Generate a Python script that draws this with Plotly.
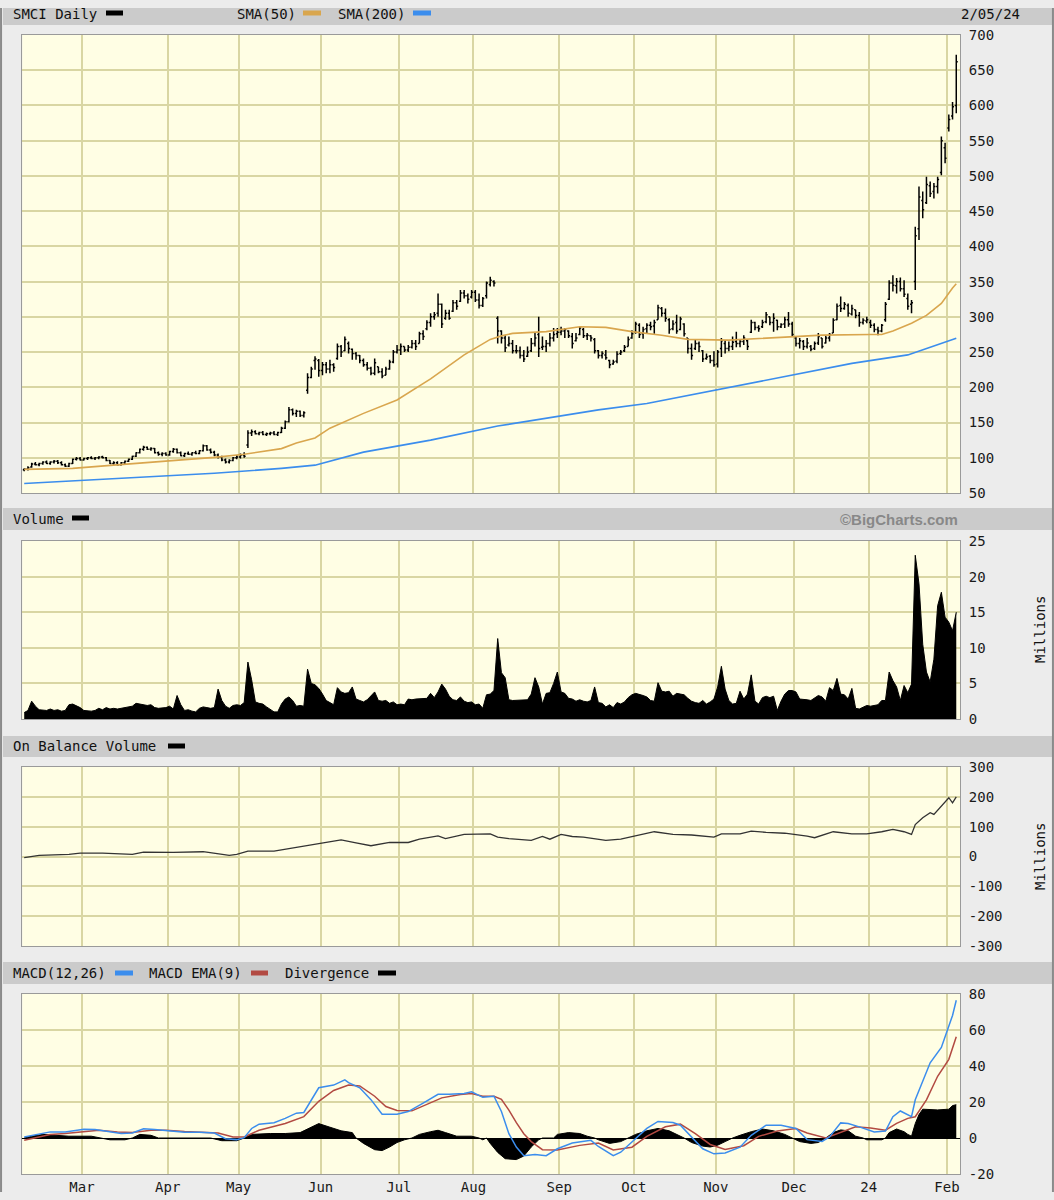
import pandas as pd
import plotly.graph_objects as go

W, H = 1054, 1200
# the page is photographed with the figure drawn 8px lower and 1184px tall,
# so vertical positions are mapped through that frame
def px(x): return x / W
def py(y): return 1 - (y - 8) / 1184

# ---------------- trading calendar ----------------
HOLIDAYS = ["2023-02-20", "2023-04-07", "2023-05-29", "2023-06-19", "2023-07-04",
            "2023-09-04", "2023-11-23", "2023-12-25", "2024-01-01", "2024-01-15"]
days = pd.bdate_range("2023-02-06", "2024-02-05")
days = days[~days.isin(pd.to_datetime(HOLIDAYS))]
N = len(days)
IDX = list(range(N))
MONTH_LABELS = ["Mar", "Apr", "May", "Jun", "Jul", "Aug", "Sep", "Oct", "Nov", "Dec", "24", "Feb"]

# ---------------- price data (OHLC) ----------------
OPEN = [83,84,87,91,90,92,94,92,94,95, 93,90,88,92,98,99,97,99,100,99,
        100,101,100,96,92,93,90,93,95,98, 102,107,112,115,112,113,107,105,106,104,
        109,112,107,103,106,105,107,106,110,117, 111,108,104,101,97,94,96,100,101,104,
        118,135,137,134,136,133,134,135,133,136, 142,151,168,163,166,160,196,214,238,238,
        224,232,226,232,241,258,252,262,254,248, 245,238,232,227,220,229,222,217,226,236,
        250,253,258,253,257,262,262,276,283,292, 300,305,318,298,305,308,320,322,334,330,
        328,335,324,316,330,346,350,298,280,270, 260,262,252,252,245,244,252,262,275,257,
        258,262,270,276,278,280,280,272,266,275, 282,273,273,268,252,245,246,238,233,237,
        248,252,258,270,278,288,276,283,288,287, 296,312,305,296,283,292,282,290,270,255,
        255,262,252,241,244,238,233,255,262,255, 258,265,262,265,266,278,292,285,286,293,
        300,292,295,286,290,296,290,270,262,265, 258,258,255,263,270,263,270,277,296,316,
        312,316,304,310,302,292,294,292,288,282, 280,296,325,348,344,350,340,326,318,350,
        425,465,462,486,478,485,505,540,568,585, 600]
HIGH = [85,88,93,94,93,95,96,95,97,97, 95,92,93,99,101,101,100,101,102,101,
        102,103,101,97,95,95,94,96,99,103, 108,113,117,116,115,114,109,108,108,110,
        114,113,109,107,109,108,110,111,119,118, 113,110,106,103,99,98,101,104,106,108,
        139,140,139,137,138,136,137,138,137,144, 153,172,170,168,167,166,220,229,244,240,
        236,236,239,234,262,260,272,265,255,250, 246,241,236,229,241,229,227,229,239,253,
        260,262,258,260,267,267,279,281,295,305, 307,333,319,310,310,324,324,338,338,333,
        338,338,333,328,350,357,352,301,281,274, 272,267,260,258,253,258,270,277,300,272,
        267,277,284,284,286,284,281,277,277,286, 284,277,274,270,253,251,253,239,239,251,
        253,260,272,281,293,291,286,291,293,296, 317,314,312,298,295,303,300,291,270,262,
        267,265,253,248,246,251,253,270,267,265, 272,279,268,274,268,296,293,288,296,307,
        300,305,296,291,300,307,293,272,270,267, 270,260,265,277,270,274,277,298,319,329,
        321,319,317,310,307,298,300,296,291,286, 290,321,352,359,355,356,352,333,324,428,
        485,478,499,492,490,499,556,547,587,605, 672]
LOW = [81,82,86,89,88,90,91,90,92,91, 89,87,87,91,96,96,96,97,98,97,
       98,99,95,91,90,89,89,91,94,97, 101,106,110,111,110,106,103,102,103,103,
       107,106,102,101,104,103,105,105,109,110, 106,102,99,95,92,92,95,98,99,100,
       114,131,133,132,132,131,132,132,131,135, 141,150,160,158,158,157,191,213,225,215,
       217,220,220,222,239,243,251,248,239,239, 234,229,224,217,217,220,213,217,225,234,
       248,246,250,250,255,253,262,267,281,286, 296,300,284,296,296,307,310,321,326,319,
       326,321,312,314,326,343,343,262,262,250, 258,248,248,241,236,243,250,258,243,253,
       250,258,265,270,274,270,270,255,265,274, 270,267,265,248,241,241,239,227,232,234,
       246,250,258,269,276,270,269,276,281,276, 296,300,293,276,281,276,281,272,248,239,
       253,250,236,239,234,229,228,243,248,251, 253,257,257,260,253,277,281,279,284,291,
       288,279,281,284,284,286,272,258,255,253, 255,251,253,260,255,262,265,277,295,307,
       310,300,302,298,286,289,291,284,278,274, 278,293,324,336,333,336,328,310,305,338,
       409,440,460,470,468,475,501,518,563,580, 589]
CLOSE = [84,86,91,90,92,94,92,94,95,93, 90,88,92,98,99,97,99,100,99,100,
         101,100,96,92,93,90,93,95,98,102, 107,112,115,112,113,107,105,106,104,109,
         112,107,103,106,105,107,106,110,117,111, 108,104,101,97,94,96,100,101,104,102,
         135,137,134,136,133,134,135,133,136,142, 151,168,163,166,160,164,214,226,240,224,
         232,226,232,228,258,250,268,255,248,245, 238,232,227,220,235,222,216,226,236,250,
         253,258,253,257,262,258,276,272,292,300, 303,318,290,305,298,320,315,334,330,325,
         335,324,316,326,348,352,348,280,270,256, 262,252,252,245,240,250,262,270,255,258,
         262,270,275,278,280,282,273,262,270,284, 273,274,270,252,245,248,242,232,236,247,
         250,257,268,276,290,275,282,288,286,292, 313,305,298,282,290,280,297,276,255,245,
         262,258,240,243,238,232,250,266,255,258, 264,262,265,270,258,292,285,283,292,303,
         292,298,286,289,296,290,275,262,266,258, 263,254,262,272,258,270,275,295,315,312,
         318,305,312,302,292,295,296,288,282,280, 288,318,348,345,350,340,332,315,320,415,
         470,452,488,475,485,495,550,525,580,598, 662]

# moving averages (at sample days)
SMA50_DAY = [0, 13, 24, 38, 51, 59, 64, 69, 73, 78, 82, 91, 100, 109, 118, 125, 128, 131, 140,
             149, 156, 163, 171, 178, 189, 206, 214, 227, 230, 233, 238, 242, 246, 249, 250]
SMA50_VAL = [83.5, 85, 89.5, 95.5, 100.5, 105, 108.5, 113, 121, 128, 142, 163, 182, 212, 246,
             268, 273, 276.5, 279, 286, 285, 279, 274, 268, 267, 272, 274, 275, 275, 280, 291,
             302, 319, 341, 347]
SMA200_DAY = [0, 13, 33, 51, 69, 78, 91, 109, 127, 154, 167, 189, 204, 222, 237, 242, 250]
SMA200_VAL = [63.5, 67, 73, 78, 85, 89.5, 108, 125, 145, 168, 177, 200, 215, 234, 246, 255, 269.5]

# ---------------- volume (millions) ----------------
VOLUME = [0.9,1.2,2.5,1.8,1.3,1.3,1.2,1.4,1.2,1.3, 1.1,1.2,2.0,2.1,1.9,1.6,1.2,1.1,1.1,1.2,
          1.5,1.3,1.6,1.4,1.5,1.4,1.5,1.6,1.7,1.8, 2.2,2.1,1.9,1.9,2.0,1.6,1.5,1.5,1.6,1.8,
          1.4,3.3,2.0,1.2,1.3,1.1,1.0,1.5,1.7,1.6, 1.5,1.6,4.2,2.6,1.8,1.5,1.9,2.0,1.9,2.3,
          8.0,5.5,2.4,2.2,2.1,1.7,1.3,1.0,1.0,2.1, 2.8,3.1,2.6,1.8,1.9,1.8,7.0,5.0,4.8,4.3,
          3.5,2.6,2.3,2.0,4.4,3.8,3.6,3.7,4.5,2.8, 2.6,2.4,2.7,3.2,3.8,2.6,2.5,2.6,2.2,2.4,
          2.0,2.1,2.0,2.8,2.7,2.8,2.8,2.8,2.9,3.6, 3.0,3.8,4.9,4.2,3.2,2.7,2.6,3.1,2.5,2.3,
          2.4,2.0,2.1,1.5,3.4,3.5,4.0,11.3,6.5,5.8, 2.7,2.6,2.6,2.7,2.7,2.7,3.5,5.8,4.5,2.1,
          3.6,3.7,5.0,6.6,3.8,3.6,2.9,2.8,2.5,2.7, 2.5,2.4,2.6,4.5,2.3,2.2,1.7,2.0,1.6,2.3,
          2.1,2.4,3.0,3.4,3.6,3.5,3.3,3.1,2.6,2.5, 5.1,3.9,3.8,3.9,3.2,3.6,3.5,3.4,2.9,2.5,
          2.3,2.2,2.6,2.1,2.4,2.8,4.5,7.4,4.2,2.6, 2.1,2.2,3.9,2.8,3.5,6.2,2.5,2.1,3.0,3.2,
          3.0,3.2,1.2,2.5,3.5,4.0,4.0,3.8,2.8,2.8, 2.7,2.6,2.9,3.3,3.1,2.5,4.4,4.0,5.7,3.5,
          3.4,2.8,4.3,1.5,1.4,1.6,1.9,1.8,1.9,2.0, 2.6,2.6,6.6,5.4,4.5,2.6,4.7,3.7,4.9,23.0,
          19.0,10.5,6.6,5.2,8.4,15.9,17.8,14.3,13.6,12.4, 15.0]

# ---------------- on balance volume (millions) ----------------
OBV_DAY = [0, 4, 12, 15, 21, 29, 32, 40, 48, 52, 55, 57, 60, 67, 71, 76, 81, 85, 89, 93, 98,
           103, 106, 111, 113, 118, 125, 127, 130, 136, 139, 141, 144, 147, 150, 156, 160, 164,
           169, 174, 179, 185, 187, 192, 195, 199, 204, 210, 212, 217, 222, 226, 230, 233, 236,
           238, 239, 241, 243, 244, 246, 248, 249, 250]
OBV_VAL = [-4, 4, 7, 11, 11, 7, 15, 14, 16, 10, 4, 7, 18, 18, 27, 38, 49, 56, 46, 36, 47,
           47, 58, 69, 60, 74, 76, 65, 60, 54, 67, 58, 74, 67, 65, 54, 58, 68,
           83, 74, 72, 65, 76, 76, 85, 81, 78, 68, 63, 83, 76, 76, 83, 91, 83,
           74, 107, 130, 147, 141, 169, 197, 180, 200]

# ---------------- MACD ----------------
MACD_DAY = [0, 2, 7, 11, 16, 19, 22, 26, 29, 32, 35, 38, 43, 47, 51, 54, 57, 59, 61, 63, 67, 70,
            73, 75, 77, 79, 83, 86, 87, 90, 93, 96, 100, 103, 107, 111, 114, 118, 120, 123, 126,
            128, 130, 132, 134, 137, 140, 143, 147, 149, 152, 154, 158, 160, 164, 167, 170, 174,
            176, 179, 182, 185, 188, 192, 195, 199, 203, 207, 210, 214, 216, 219, 221, 224, 228,
            231, 233, 235, 238, 239, 241, 243, 246, 247, 248, 249, 250]
MACD_VAL = [0.6, 1.5, 3.4, 3.4, 4.9, 4.7, 3.8, 2.5, 2.8, 5.1, 4.7, 4.0, 3.2, 3.2, 2.8, -0.4, -0.9,
            0.2, 5.3, 7.7, 8.5, 10.9, 13.8, 14.2, 21.3, 27.9, 29.4, 32.3, 30.8, 27.9, 21.3, 13.2,
            13.2, 14.7, 19.4, 24.3, 24.3, 24.7, 25.7, 22.6, 23.2, 14.7, 2.4, -5, -9.8, -9.2, -9.8,
            -6, -2.8, -2.3, -1.3, -4.7, -9.8, -7.9, -0.4, 5.3, 9.2, 8.6, 7.1, 0.6, -6, -8.8, -8.3,
            -5.1, 1.5, 7.1, 7.1, 5.3, -0.9, -1.9, 0.6, 8.4, 8.1, 6.2, 3.4, 3.9, 11.8, 15, 11.8,
            21.2, 31.5, 41.8, 50.3, 55.9, 62.5, 68.1, 76.5]
SIGNAL_DAY = [0, 7, 11, 16, 20, 25, 29, 34, 38, 43, 47, 52, 56, 59, 63, 70, 75, 79, 83, 87, 90,
              94, 97, 100, 104, 108, 112, 117, 120, 123, 126, 128, 130, 132, 134, 136, 139, 143,
              149, 154, 158, 163, 167, 172, 176, 180, 184, 188, 193, 197, 202, 207, 210, 215, 220,
              223, 227, 231, 234, 237, 239, 242, 245, 248, 250]
SIGNAL_VAL = [-1.3, 1.9, 2.5, 3.4, 4.3, 3.4, 3.0, 4.3, 4.3, 3.6, 3.4, 2.8, 0.6, 0.6, 4.3, 8.1,
              11.9, 20.4, 26.4, 29.4, 28.9, 23.2, 17.5, 15.3, 15.1, 18.5, 22.3, 24.2, 24.7, 23.2,
              23.2, 21.5, 15.5, 8.5, 2.4, -2, -6.5, -6.6, -4.1, -2.8, -6.6, -5.1, 0.9, 6.2, 7.7,
              2.4, -3.6, -6.4, -4.3, 0.9, 3.9, 5.3, 2.8, 0, 3.9, 6.2, 5.6, 4.3, 8.1, 10.9, 11.8,
              21.2, 34.3, 43.7, 56.3]
DIV_DAY = [0, 2, 5, 9, 12, 18, 21, 23, 27, 29, 31, 34, 36, 45, 50, 53, 57, 59, 61, 66, 70, 74,
           76, 79, 82, 85, 88, 89, 91, 94, 96, 98, 100, 102, 104, 106, 109, 111, 113, 116, 120,
           122, 123, 124, 125, 127, 129, 132, 134, 136, 138, 139, 142, 143, 146, 149, 151, 153,
           154, 157, 160, 162, 164, 167, 170, 173, 176, 177, 179, 182, 184, 186, 188, 190, 192,
           195, 198, 201, 204, 206, 208, 211, 213, 215, 217, 219, 221, 223, 225, 226, 230, 231,
           232, 234, 236, 237, 238, 239, 240, 241, 245, 248, 249, 250]
DIV_VAL = [0, 1, 2, 1.5, 1, 1, 0, -1, -1, 0, 2, 1.5, 0, 0, 0, -1.5, -1.5, 0, 2, 2.5, 2.5, 3,
           5, 8, 6, 4, 3, 0, -3, -6.5, -7, -5, -2.5, -1, 0, 2, 3.5, 4.3, 3, 1, 1,
           0, -1, 0, -3, -8, -11.5, -12, -10, -5, -1, 0, 0, 2, 3, 2.5, 1, 0,
           -1, -3, -2, 0, 2, 4, 5.3, 4, 1, 0, -2.5, -4.5, -5, -4, -2, 0, 1.5,
           3.5, 5, 4, 2, 0, -2, -3, -2.5, 0, 3, 4.5, 4, 1, 0, -1, -1, 0,
           3, 5, 3.5, 2, 1, 8, 13, 16, 15.6, 16, 18, 18.5]

PRICE_TICKS = list(range(50, 701, 50))
VOL_TICKS = [0, 5, 10, 15, 20, 25]
OBV_TICKS = [-300, -200, -100, 0, 100, 200, 300]
MACD_TICKS = [-20, 0, 20, 40, 60, 80]

# ---------------- styling ----------------
FONT = "DejaVu Sans Mono"
GRID = "#d9d6a3"
PLOT_BG = "#fffee4"
PAPER_BG = "#ececec"
HEADER_BG = "#cbcbcb"
BORDER = "#9a9a9a"
C_SMA50 = "#d9a64e"
C_BLUE = "#3b8ded"
C_RED = "#b24a42"

bounds = [i - 0.5 for i in range(1, N) if days[i].month != days[i - 1].month]

fig = go.Figure()
fig.add_trace(go.Ohlc(x=IDX, open=OPEN, high=HIGH, low=LOW, close=CLOSE,
                      increasing=dict(line=dict(color="black", width=1.5)),
                      decreasing=dict(line=dict(color="black", width=1.5)),
                      tickwidth=0.4, xaxis="x", yaxis="y", showlegend=False, hoverinfo="skip"))
fig.add_trace(go.Scatter(x=SMA50_DAY, y=SMA50_VAL, mode="lines", line=dict(color=C_SMA50, width=1.6),
                         xaxis="x", yaxis="y", showlegend=False))
fig.add_trace(go.Scatter(x=SMA200_DAY, y=SMA200_VAL, mode="lines", line=dict(color=C_BLUE, width=1.6),
                         xaxis="x", yaxis="y", showlegend=False))
fig.add_trace(go.Scatter(x=IDX, y=VOLUME, mode="lines", fill="tozeroy", fillcolor="black",
                         line=dict(color="black", width=1), xaxis="x2", yaxis="y2", showlegend=False))
fig.add_trace(go.Scatter(x=OBV_DAY, y=OBV_VAL, mode="lines", line=dict(color="#333333", width=1.3),
                         xaxis="x3", yaxis="y3", showlegend=False))
fig.add_trace(go.Scatter(x=DIV_DAY, y=DIV_VAL, mode="lines", fill="tozeroy", fillcolor="black",
                         line=dict(color="black", width=1), xaxis="x4", yaxis="y4", showlegend=False))
fig.add_trace(go.Scatter(x=SIGNAL_DAY, y=SIGNAL_VAL, mode="lines", line=dict(color=C_RED, width=1.5),
                         xaxis="x4", yaxis="y4", showlegend=False))
fig.add_trace(go.Scatter(x=MACD_DAY, y=MACD_VAL, mode="lines", line=dict(color=C_BLUE, width=1.5),
                         xaxis="x4", yaxis="y4", showlegend=False))

tickfont = dict(family=FONT, size=14, color="#1a1a1a")

def xax(anchor, show):
    d = dict(domain=[px(22.35), px(960)], range=[-0.5, N], tickmode="array", tickvals=bounds,
             showticklabels=show, showgrid=True, gridcolor=GRID, gridwidth=1.5, zeroline=False,
             showline=True, mirror=True, linecolor=BORDER, linewidth=1, ticks="",
             tickfont=tickfont, anchor=anchor, fixedrange=True)
    if show:
        d["ticktext"] = MONTH_LABELS
    if anchor != "y":
        d["matches"] = "x"
    return d

def yax(top, bottom, rng, ticks, anchor, zero=False):
    return dict(domain=[py(bottom), py(top)], range=rng, side="right", tickmode="array",
                tickvals=ticks, ticktext=[str(t) for t in ticks], showgrid=True, gridcolor=GRID,
                gridwidth=1.5, zeroline=zero, zerolinecolor="black", zerolinewidth=1,
                showline=True, mirror=True, linecolor=BORDER, linewidth=1, ticks="",
                tickfont=tickfont, anchor=anchor, ticklabelstandoff=5, fixedrange=True)

fig.update_layout(
    width=W, height=H, autosize=False, margin=dict(l=0, r=0, t=0, b=0, pad=0),
    paper_bgcolor=PAPER_BG, plot_bgcolor=PLOT_BG, showlegend=False,
    xaxis=dict(xax("y", False), rangeslider=dict(visible=False)),
    xaxis2=xax("y2", False), xaxis3=xax("y3", False), xaxis4=xax("y4", True),
    yaxis=yax(35, 493, [50, 700], PRICE_TICKS, "x"),
    yaxis2=yax(541, 719, [0, 25], VOL_TICKS, "x2"),
    yaxis3=yax(767, 946, [-300, 300], OBV_TICKS, "x3"),
    yaxis4=yax(994, 1174, [-20, 80], MACD_TICKS, "x4", zero=True),
)

shapes = []
annotations = []

def header(y0, y1):
    shapes.append(dict(type="rect", xref="paper", yref="paper", x0=px(3), x1=px(1052),
                       y0=py(y1), y1=min(1.0, py(y0)), fillcolor=HEADER_BG, line=dict(width=0),
                       layer="below"))

def text(x, y, s, anchor="left", color="#111111", size=14, family=FONT, angle=0):
    annotations.append(dict(xref="paper", yref="paper", x=px(x), y=py(y), text=s, showarrow=False,
                            xanchor=anchor, yanchor="middle", textangle=angle,
                            font=dict(family=family, size=size, color=color)))

def swatch(x0, x1, yc, color):
    shapes.append(dict(type="rect", xref="paper", yref="paper", x0=px(x0), x1=px(x1),
                       y0=py(yc + 2.5), y1=py(yc - 2.5), fillcolor=color, line=dict(width=0)))

header(3, 25)
text(11, 14, "SMCI Daily"); swatch(106, 123, 13, "black")
text(235, 14, "SMA(50)"); swatch(303, 321, 13, C_SMA50)
text(336, 14, "SMA(200)"); swatch(413, 431, 13, C_BLUE)
text(1022, 14, "2/05/24", anchor="right")

header(508, 530)
text(11, 519, "Volume"); swatch(72, 89, 518, "black")
text(960, 519, "©BigCharts.com", anchor="right", color="#888888", size=15, family="Liberation Sans")
annotations[-1]["font"]["weight"] = "bold"
text(1040, 630, "Millions", anchor="center", angle=-90)

header(736, 757)
text(11, 746, "On Balance Volume"); swatch(168, 185, 746, "black")
text(1040, 857, "Millions", anchor="center", angle=-90)

header(962, 984)
text(11, 973, "MACD(12,26)"); swatch(115, 133, 973, C_BLUE)
text(147, 973, "MACD EMA(9)"); swatch(251, 268, 973, C_RED)
text(283, 973, "Divergence"); swatch(378, 396, 973, "black")

# left / right frame lines
shapes.append(dict(type="line", xref="paper", yref="paper", x0=0.001, x1=0.001, y0=0, y1=1,
                   line=dict(color="#8a8a8a", width=2)))
shapes.append(dict(type="line", xref="paper", yref="paper", x0=0.999, x1=0.999, y0=0, y1=1,
                   line=dict(color="#8a8a8a", width=2)))

fig.update_layout(shapes=shapes, annotations=annotations)
fig.write_html(
    "out.html",
    config={"displayModeBar": False, "responsive": False},
    post_script=("document.documentElement.style.margin='0';"
                 "document.documentElement.style.background="
                 "'linear-gradient(to bottom, #cbcbcb 0px, #cbcbcb 600px, #e4e4e4 600px)';"
                 "document.documentElement.style.minHeight='100%';"
                 "document.body.style.margin='0';document.body.style.padding='0';"
                 "document.body.style.overflow='hidden';"),
)
